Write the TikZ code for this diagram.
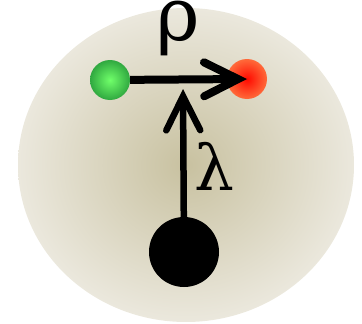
\documentclass[tikz,border=0pt]{standalone}
\usepackage{fontspec}
\setmainfont{DejaVu Serif}
\usetikzlibrary{arrows.meta,shapes.geometric}
\definecolor{cellin}{HTML}{C8C1A0}
\definecolor{cellout}{HTML}{EBE8DD}
\definecolor{greenin}{HTML}{70FF6A}
\definecolor{greenout}{HTML}{30A840}
\definecolor{redin}{HTML}{FF0A00}
\definecolor{redout}{HTML}{FF6A3A}
\tikzset{
  cell/.style={ellipse, shading=radial, inner color=cellin, outer color=cellout,
    minimum width=336pt, minimum height=314pt, inner sep=0pt},
  ball/.style={circle, minimum size=40pt, inner sep=0pt, shading=radial},
  heavy/.style={circle, fill=black, minimum size=70pt, inner sep=0pt},
  greek/.style={inner sep=0pt, anchor=base},
  flow/.style={-{Straight Barb[length=34pt, width=34pt, line cap=round]}, draw=black},
}

\begin{document}
\begin{tikzpicture}[x=1pt, y=-1pt]
\useasboundingbox (0,0) rectangle (362,324);

% cell
\node[cell] (cell) at (186,165) {};

% particles
\node[ball, inner color=greenin, outer color=greenout] (green) at (110,80) {};
\node[ball, inner color=redin, outer color=redout] (red) at (247,79) {};
\node[heavy] (mass) at (184,252) {};
\coordinate (lamtip) at (183,89);

% arrows
\draw[flow, line width=8pt] (green) -- (red.center);
\draw[flow, line width=6.5pt] (mass) -- (lamtip);
\node[greek, font=\fontsize{74}{74}\selectfont] (rho) at (178,41) {ρ};
\node[greek, font=\fontsize{63}{63}\selectfont] (lam) at (214,190) {λ};

\end{tikzpicture}
\end{document}
